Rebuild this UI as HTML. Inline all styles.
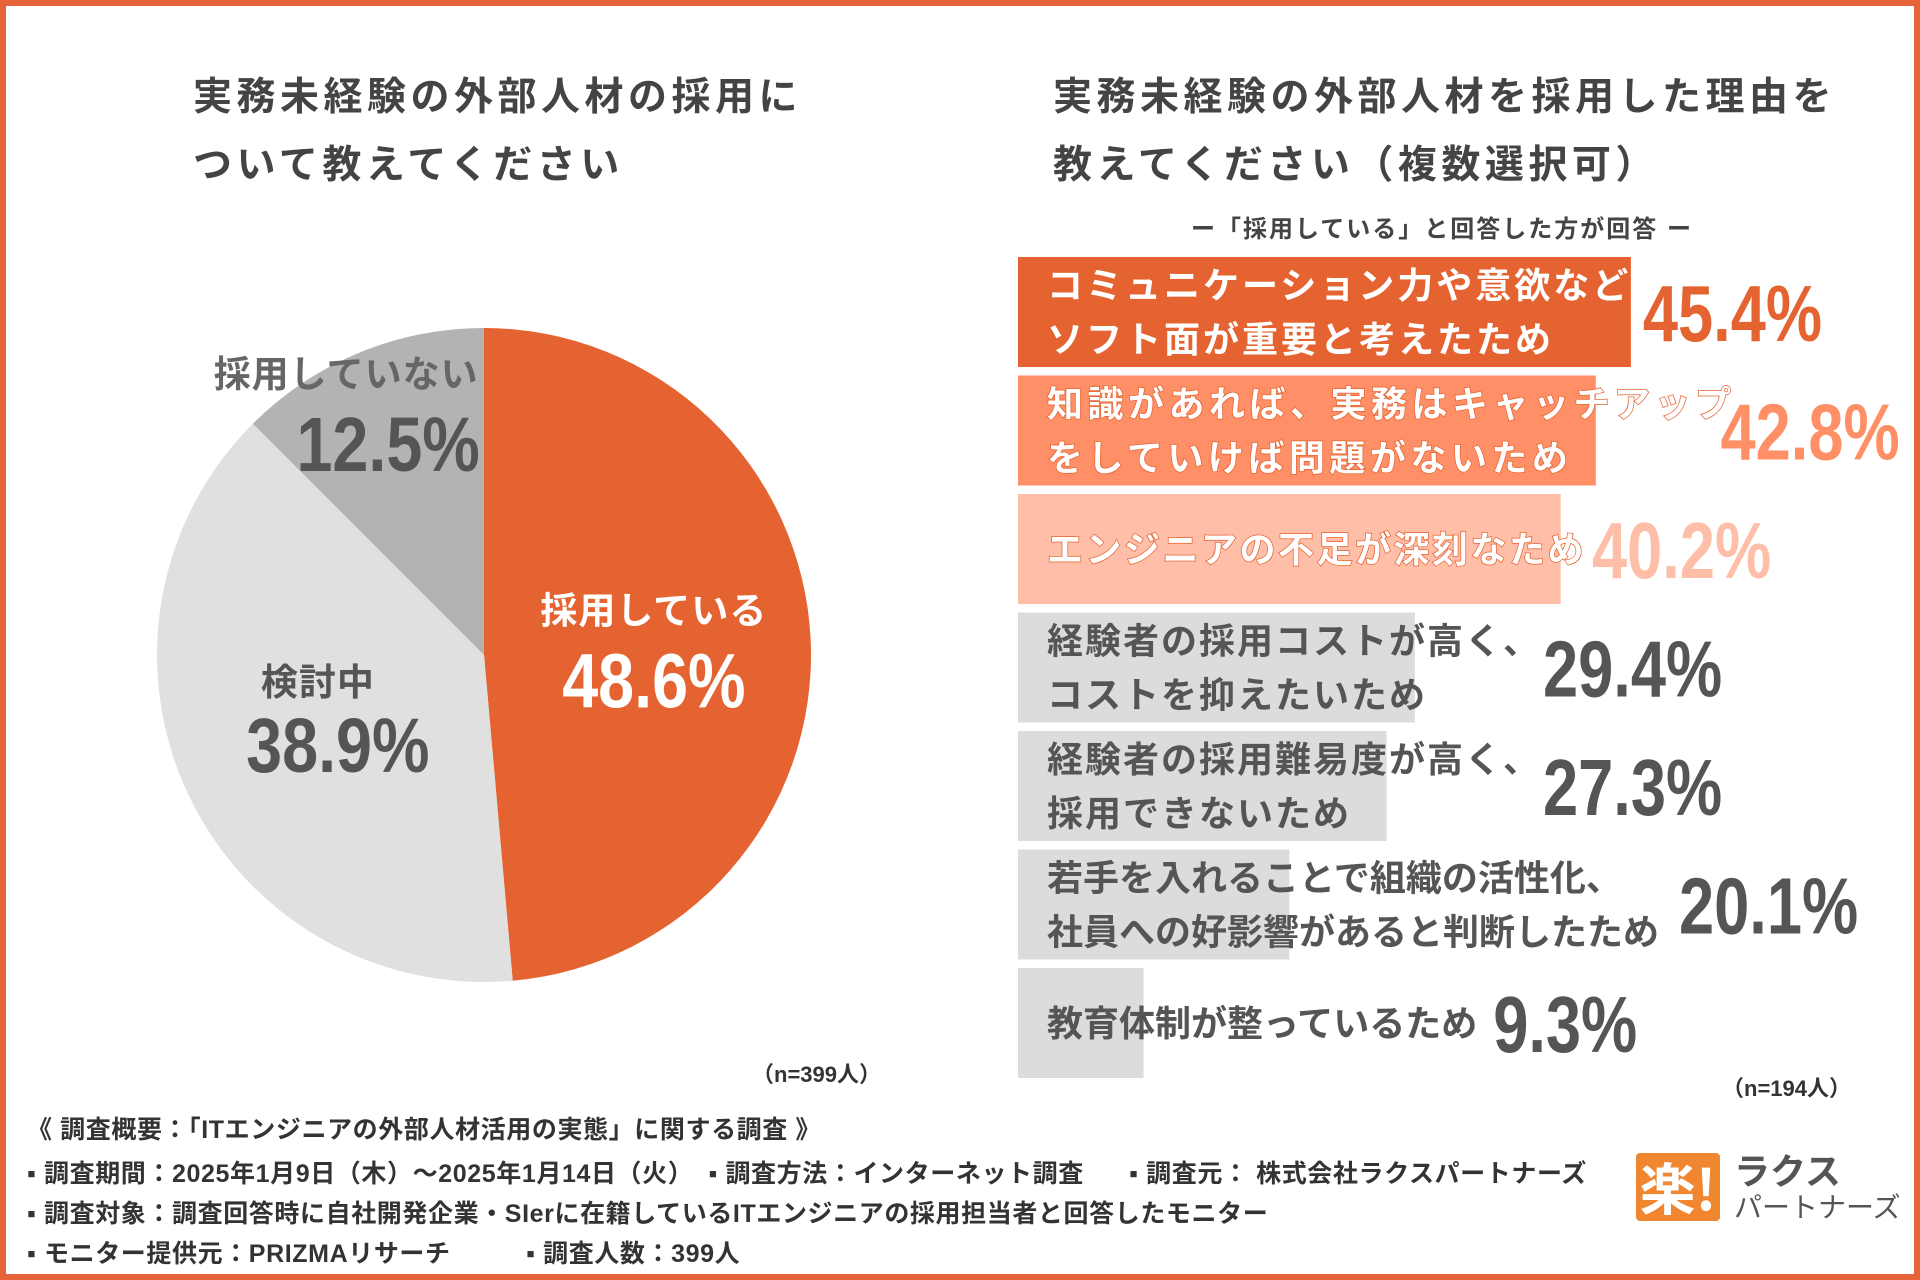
<!DOCTYPE html>
<html><head><meta charset="utf-8">
<style>
html,body{margin:0;padding:0;}
body{width:1920px;height:1280px;position:relative;overflow:hidden;background:#fff;font-family:"Liberation Sans","Noto Sans CJK JP",sans-serif;}
#frame{position:absolute;left:0;top:0;width:1920px;height:1280px;box-sizing:border-box;border:6px solid #E5643A;}
.t{position:absolute;white-space:nowrap;font-weight:bold;}
.title{font-size:39px;color:#444;line-height:68px;letter-spacing:4.5px;}
.foot{font-size:25px;color:#333;left:27px;letter-spacing:0.6px;}
</style></head><body>
<div id="frame"></div>
<div class="t title" style="left:193px;top:64px;">実務未経験の外部人材の採用に<br>ついて教えてください</div>
<div class="t title" style="left:1053px;top:64px;">実務未経験の外部人材を採用した理由を<br>教えてください（複数選択可）</div>
<div class="t" style="left:1442px;top:209px;transform:translateX(-50%);font-size:24px;letter-spacing:2px;color:#444;">ー「採用している」と回答した方が回答 ー</div>
<svg id="chart" width="1920" height="1280" style="position:absolute;left:0;top:0;"></svg>
<div class="t" style="left:752px;top:1057px;font-size:22px;color:#333;">（n=399人）</div>
<div class="t" style="left:1722px;top:1071px;font-size:22px;color:#333;">（n=194人）</div>
<div class="t foot" style="top:1110px;">《 調査概要：「ITエンジニアの外部人材活用の実態」に関する調査 》</div>
<div class="t foot" style="top:1154px;">▪ 調査期間：2025年1月9日（木）～2025年1月14日（火） &nbsp;▪ 調査方法：インターネット調査 &nbsp;&nbsp;&nbsp;&nbsp;&nbsp;▪ 調査元： 株式会社ラクスパートナーズ</div>
<div class="t foot" style="top:1194px;">▪ 調査対象：調査回答時に自社開発企業・SIerに在籍しているITエンジニアの採用担当者と回答したモニター</div>
<div class="t foot" style="top:1234px;">▪ モニター提供元：PRIZMAリサーチ &nbsp;&nbsp;&nbsp;&nbsp;&nbsp;&nbsp;&nbsp;&nbsp;&nbsp;▪ 調査人数：399人</div>
<div style="position:absolute;left:1636px;top:1153px;width:84px;height:68px;background:#F0862F;border-radius:4px;color:#fff;font-weight:bold;font-size:56px;line-height:68px;text-align:center;font-family:'Noto Sans CJK JP',sans-serif;">楽!</div>
<div class="t" style="left:1734px;top:1150px;font-size:36px;color:#555;line-height:44px;">ラクス</div>
<div class="t" style="left:1734px;top:1191px;font-size:28px;color:#555;font-weight:normal;line-height:34px;">パートナーズ</div>
<script>
const pieLabels=["採用している","検討中","採用していない"];
const pieValues=[48.6,38.9,12.5];
const barLabels=[["コミュニケーション力や意欲など","ソフト面が重要と考えたため"],["知識があれば、実務はキャッチアップ","をしていけば問題がないため"],["エンジニアの不足が深刻なため"],["経験者の採用コストが高く、","コストを抑えたいため"],["経験者の採用難易度が高く、","採用できないため"],["若手を入れることで組織の活性化、","社員への好影響があると判断したため"],["教育体制が整っているため"]];
const barValues=[45.4,42.8,40.2,29.4,27.3,20.1,9.3];
const NS="http://www.w3.org/2000/svg";
const svg=document.getElementById('chart');
function mk(tag,attrs,parent){const e=document.createElementNS(NS,tag);for(const k in attrs)e.setAttribute(k,attrs[k]);(parent||svg).appendChild(e);return e;}
// pie
const cx=484,cy=655,r=327;
const pieColors=["#E56331","#E0E0E0","#B3B3B3"];
const pieText=[["#fff","#fff"],["#555","#555"],["#666","#555"]];
const labelR=[0.52,0.5,0.83];
const labelDx=[[0,0],[-18,2],[-34,8]];
const labelDy=[[0,0],[-5,-12],[7,7]];
let acc=0;
const total=pieValues.reduce((a,b)=>a+b,0);
function pt(f,rr){const a=f*2*Math.PI-Math.PI/2;return [cx+rr*Math.cos(a),cy+rr*Math.sin(a)];}
pieValues.forEach((v,i)=>{
 const s=acc/total,e=(acc+v)/total;acc+=v;
 const p0=pt(s,r),p1=pt(e,r);
 const path=mk('path',{d:`M${cx},${cy}L${p0[0]},${p0[1]}A${r},${r} 0 ${(e-s)>0.5?1:0} 1 ${p1[0]},${p1[1]}Z`,fill:pieColors[i]});
 
 
 const m=pt((s+e)/2,r*labelR[i]);
 const t1=mk('text',{x:m[0]+labelDx[i][0],y:m[1]-24+labelDy[i][0],'text-anchor':'middle','font-size':37,'font-weight':'bold',fill:pieText[i][0],'letter-spacing':'1'});
 t1.textContent=pieLabels[i];
 
 
 const t2=mk('text',{x:0,y:0,'text-anchor':'middle','font-size':77,'font-weight':'bold',fill:pieText[i][1],transform:`translate(${m[0]+labelDx[i][1]},${m[1]+60+labelDy[i][1]}) scale(0.84,1)`});
 t2.textContent=v.toFixed(1)+'%';
 
 
});
// bars
const x0=1018,top0=257,pitch=118.5,bh=110,scale=13.5;
const barColors=["#E56331","#FF8F66","#FFBEA8","#DCDCDC","#DCDCDC","#DCDCDC","#DCDCDC"];
const valColors=["#E56331","#FF8F66","#FFBEA8","#555","#555","#555","#555"];
const txtColors=["#fff","#fff","#fff","#555","#555","#555","#555"];
const spacing=[3,4.5,2.5,2,2,0,0];
const gaps=[6,-15,6,2,2,20,16];
barValues.forEach((v,i)=>{
 const y=top0+i*pitch;
 const b=mk('rect',{x:x0,y:y,width:v*scale,height:bh,fill:barColors[i]});
 
 
 const lines=barLabels[i];
 let maxw=0;
 lines.forEach((ln,j)=>{
  const ty=y+bh/2+(lines.length==1?13:(j==0?-14:40));
  const a={x:1047,y:ty,'font-size':36,'font-weight':'bold',fill:txtColors[i],'letter-spacing':spacing[i]};
  if(i==1||i==2){a.stroke='#E56331';a['stroke-width']=1.5;a['paint-order']='stroke';}
  const t=mk('text',a);t.textContent=ln;
  
  
  maxw=Math.max(maxw,t.getComputedTextLength());
 });
 const vx=Math.max(1047+maxw+gaps[i],x0+v*scale+12);
 const tv=mk('text',{x:0,y:0,'font-size':80,'font-weight':'bold',fill:valColors[i],transform:`translate(${vx},${y+bh/2+29}) scale(0.79,1)`});
 tv.textContent=v.toFixed(1)+'%';
 
 
});
</script>
</body></html>
